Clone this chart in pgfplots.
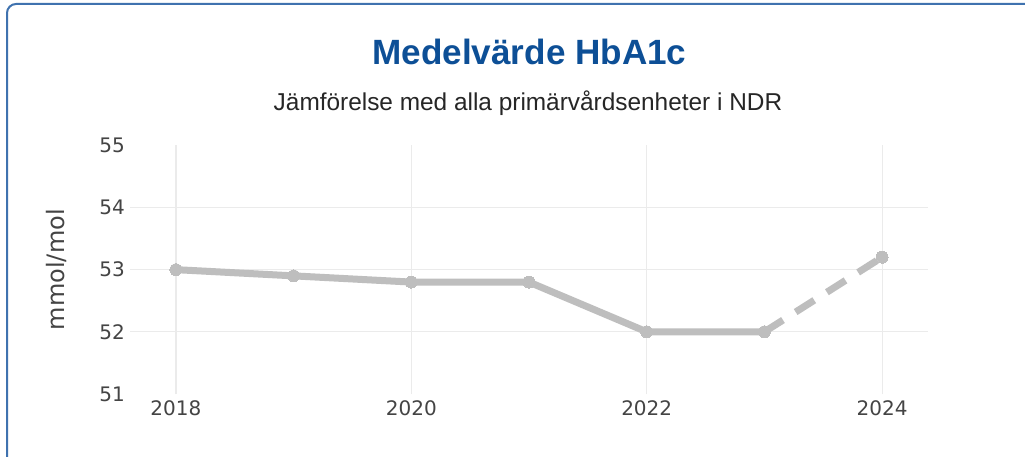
\documentclass[border=0pt]{standalone}
\usepackage{pgfplots}
\pgfplotsset{compat=1.18}
\usepackage{fontspec}
\setmainfont{Liberation Sans}
\newfontfamily\tickfont{DejaVu Sans}
\definecolor{titleblue}{HTML}{0D4F96}
\definecolor{framecol}{HTML}{3F72AF}
\definecolor{linegrey}{HTML}{BEBEBE}
\definecolor{gridgrey}{HTML}{EBEBEB}
\definecolor{ticktext}{HTML}{444444}
\begin{document}
\begin{tikzpicture}[x=1pt,y=1pt]
\useasboundingbox (0,0) rectangle (1025,456);
\fill[white] (0,0) rectangle (1025,456);
\begin{scope}
\clip (0,0) rectangle (1025,456);
\draw[framecol, line width=2pt, rounded corners=9pt] (7,-30) rectangle (1060,452);
\end{scope}
\node[anchor=base, inner sep=0pt, text=titleblue, font=\fontsize{35.1}{40}\selectfont\bfseries] at (529.5,391) {Medelvärde HbA1c};
\node[anchor=base, inner sep=0pt, text=black!85, font=\fontsize{24.4}{28}\selectfont] at (528,345.3) {Jämförelse med alla primärvårdsenheter i NDR};
\begin{axis}[
  at={(130pt,62pt)}, anchor=south west,
  scale only axis, width=798pt, height=248.7pt,
  xmin=2017.61, xmax=2024.39, ymin=51, ymax=55,
  axis line style={draw=none},
  major tick length=0pt,
  xtick={2018,2020,2022,2024},
  ytick={51,52,53,54,55},
  xmajorgrids=true,
  grid style={gridgrey, line width=1.2pt},
  extra y ticks={52,53,54},
  extra y tick labels={},
  extra y tick style={ymajorgrids=true},
  /pgf/number format/assume math mode=true,
  xticklabel style={font=\tickfont\fontsize{20}{24}\selectfont, text=ticktext, inner sep=0pt, anchor=north, yshift=-6pt, /pgf/number format/1000 sep={}},
  yticklabel style={font=\tickfont\fontsize{20}{24}\selectfont, text=ticktext, inner sep=0pt, anchor=east, xshift=-5pt},
  ylabel={mmol/mol},
  every axis y label/.style={at={(axis description cs:-0.0915,0.5)}, rotate=90, anchor=center, inner sep=0pt, font=\tickfont\fontsize{24}{28}\selectfont, text=ticktext},
  clip=false,
]
\addplot[linegrey, line width=7pt, line join=round, mark=*, mark size=6pt, mark options={solid, fill=linegrey, draw=linegrey, line width=0pt}]
  coordinates {(2018,53.0) (2019,52.9) (2020,52.8) (2021,52.8) (2022,52.0) (2023,52.0)};
\addplot[linegrey, line width=7pt, dash pattern=on 22pt off 15pt, mark=*, mark size=6pt, mark options={solid, fill=linegrey, draw=linegrey, line width=0pt}]
  coordinates {(2023,52.0) (2024,53.2)};
\end{axis}
\end{tikzpicture}
\end{document}
